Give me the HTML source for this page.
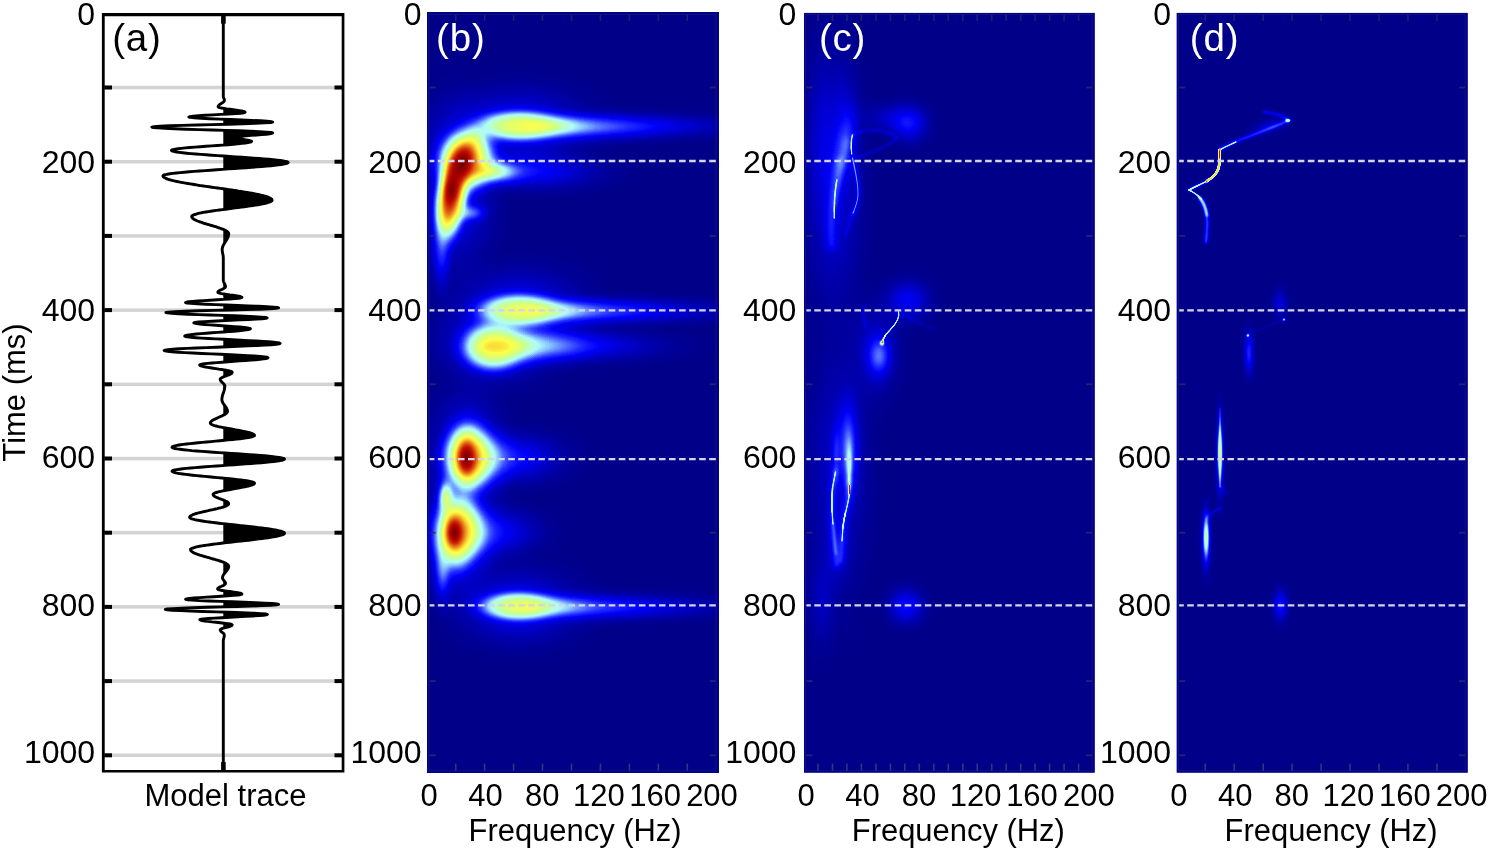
<!DOCTYPE html>
<html lang="en"><head><meta charset="utf-8"><title>Time-frequency spectra of model trace</title>
<style>html,body{margin:0;padding:0;background:#fff;}body{width:1489px;height:851px;overflow:hidden;font-family:"Liberation Sans",Arial,sans-serif;}svg{display:block}</style>
</head><body>
<svg width="1489" height="851" viewBox="0 0 1489 851" font-family="Liberation Sans, Arial, sans-serif">
<defs>
<filter id="jet" x="0" y="0" width="100%" height="100%" filterUnits="objectBoundingBox" color-interpolation-filters="sRGB">
<feComponentTransfer>
<feFuncR type="table" tableValues="0.000 0.000 0.000 0.137 0.333 0.529 0.686 0.725 0.784 0.894 0.988 0.980 0.922 0.843 0.765 0.627 0.412"/>
<feFuncG type="table" tableValues="0.000 0.000 0.000 0.176 0.451 0.765 0.980 1.000 1.000 1.000 1.000 0.824 0.549 0.275 0.059 0.000 0.000"/>
<feFuncB type="table" tableValues="0.541 0.776 0.980 1.000 1.000 1.000 0.980 0.804 0.588 0.412 0.294 0.196 0.118 0.059 0.000 0.000 0.000"/>
<feFuncA type="linear" slope="0" intercept="1"/>
</feComponentTransfer>
</filter>
<radialGradient id="gg" cx="0.5" cy="0.5" r="0.5"><stop offset="0.0000" stop-color="#fff" stop-opacity="1.0000"/><stop offset="0.0625" stop-color="#fff" stop-opacity="0.9826"/><stop offset="0.1250" stop-color="#fff" stop-opacity="0.9321"/><stop offset="0.1875" stop-color="#fff" stop-opacity="0.8537"/><stop offset="0.2500" stop-color="#fff" stop-opacity="0.7548"/><stop offset="0.3125" stop-color="#fff" stop-opacity="0.6444"/><stop offset="0.3750" stop-color="#fff" stop-opacity="0.5311"/><stop offset="0.4375" stop-color="#fff" stop-opacity="0.4226"/><stop offset="0.5000" stop-color="#fff" stop-opacity="0.3247"/><stop offset="0.5625" stop-color="#fff" stop-opacity="0.2408"/><stop offset="0.6250" stop-color="#fff" stop-opacity="0.1724"/><stop offset="0.6875" stop-color="#fff" stop-opacity="0.1192"/><stop offset="0.7500" stop-color="#fff" stop-opacity="0.0796"/><stop offset="0.8125" stop-color="#fff" stop-opacity="0.0513"/><stop offset="0.8750" stop-color="#fff" stop-opacity="0.0319"/><stop offset="0.9375" stop-color="#fff" stop-opacity="0.0192"/><stop offset="1.0000" stop-color="#fff" stop-opacity="0.0000"/></radialGradient>
<filter id="bl1" filterUnits="userSpaceOnUse" x="0" y="0" width="1489" height="851"><feGaussianBlur stdDeviation="1"/></filter>
<filter id="bl2" filterUnits="userSpaceOnUse" x="0" y="0" width="1489" height="851"><feGaussianBlur stdDeviation="2"/></filter>
<filter id="bl3" filterUnits="userSpaceOnUse" x="0" y="0" width="1489" height="851"><feGaussianBlur stdDeviation="3"/></filter>
<filter id="bl4" filterUnits="userSpaceOnUse" x="0" y="0" width="1489" height="851"><feGaussianBlur stdDeviation="4"/></filter>
<radialGradient id="gf" cx="0.5" cy="0.5" r="0.5"><stop offset="0.000" stop-color="#fff" stop-opacity="1.0000"/><stop offset="0.050" stop-color="#fff" stop-opacity="0.9997"/><stop offset="0.100" stop-color="#fff" stop-opacity="0.9970"/><stop offset="0.150" stop-color="#fff" stop-opacity="0.9892"/><stop offset="0.200" stop-color="#fff" stop-opacity="0.9731"/><stop offset="0.250" stop-color="#fff" stop-opacity="0.9459"/><stop offset="0.300" stop-color="#fff" stop-opacity="0.9052"/><stop offset="0.350" stop-color="#fff" stop-opacity="0.8495"/><stop offset="0.400" stop-color="#fff" stop-opacity="0.7787"/><stop offset="0.450" stop-color="#fff" stop-opacity="0.6945"/><stop offset="0.500" stop-color="#fff" stop-opacity="0.6000"/><stop offset="0.550" stop-color="#fff" stop-opacity="0.5001"/><stop offset="0.600" stop-color="#fff" stop-opacity="0.4003"/><stop offset="0.650" stop-color="#fff" stop-opacity="0.3064"/><stop offset="0.700" stop-color="#fff" stop-opacity="0.2233"/><stop offset="0.750" stop-color="#fff" stop-opacity="0.1542"/><stop offset="0.800" stop-color="#fff" stop-opacity="0.1004"/><stop offset="0.850" stop-color="#fff" stop-opacity="0.0614"/><stop offset="0.900" stop-color="#fff" stop-opacity="0.0351"/><stop offset="0.950" stop-color="#fff" stop-opacity="0.0186"/><stop offset="1.000" stop-color="#fff" stop-opacity="0.0000"/></radialGradient>
</defs>

<rect width="1489" height="851" fill="#fff"/>
<rect x="105.0" y="85.8" width="236.6" height="3.5" fill="#d3d3d3"/>
<rect x="105.0" y="160.0" width="236.6" height="3.5" fill="#d3d3d3"/>
<rect x="105.0" y="234.2" width="236.6" height="3.5" fill="#d3d3d3"/>
<rect x="105.0" y="308.4" width="236.6" height="3.5" fill="#d3d3d3"/>
<rect x="105.0" y="382.6" width="236.6" height="3.5" fill="#d3d3d3"/>
<rect x="105.0" y="456.8" width="236.6" height="3.5" fill="#d3d3d3"/>
<rect x="105.0" y="530.9" width="236.6" height="3.5" fill="#d3d3d3"/>
<rect x="105.0" y="605.1" width="236.6" height="3.5" fill="#d3d3d3"/>
<rect x="105.0" y="679.3" width="236.6" height="3.5" fill="#d3d3d3"/>
<rect x="105.0" y="753.5" width="236.6" height="3.5" fill="#d3d3d3"/>
<path d="M223.3 96.9L223.4 96.9L223.5 97.3L223.7 97.7L223.8 98.2L224.0 98.6L224.2 99.0L224.3 99.4L224.4 99.9L224.4 100.3L224.3 100.7L224.2 101.1L223.9 101.5L223.5 101.9L223.3 102.3ZM223.3 108.4L223.9 108.4L226.8 108.9L230.0 109.3L233.2 109.7L236.4 110.1L239.3 110.6L241.7 111.0L243.6 111.4L244.7 111.9L245.1 112.3L244.0 112.7L240.6 113.2L235.4 113.6L228.6 114.0L223.3 114.4ZM223.3 119.5L230.8 119.5L241.6 120.0L251.7 120.4L260.4 120.8L267.1 121.2L271.3 121.7L272.7 122.1L270.6 122.5L264.6 122.9L255.0 123.3L242.5 123.8L227.9 124.2L223.3 124.6ZM223.3 130.4L225.7 130.4L238.5 130.8L249.9 131.2L259.5 131.7L266.7 132.1L271.2 132.5L272.7 132.9L271.9 133.3L269.7 133.7L266.2 134.2L261.7 134.6L256.6 135.0L251.2 135.4L246.1 135.8L241.6 136.2L238.1 136.7L235.9 137.1L235.1 137.5L235.6 137.9L237.0 138.4L239.2 138.8L241.9 139.2L244.8 139.7L247.5 140.1L249.7 140.5L251.1 141.0L251.6 141.4L251.2 141.8L250.0 142.2L248.0 142.6L245.2 143.0L241.8 143.4L237.8 143.9L233.2 144.3L228.2 144.7L223.3 145.1ZM223.3 156.0L223.8 156.0L229.8 156.4L235.9 156.9L242.0 157.3L247.9 157.7L253.6 158.1L259.0 158.5L264.1 158.9L268.9 159.3L273.2 159.7L277.1 160.1L280.4 160.5L283.2 160.9L285.3 161.3L286.9 161.7L287.9 162.1L288.2 162.5L287.9 162.9L287.1 163.3L285.7 163.7L283.7 164.1L281.2 164.5L278.3 164.9L274.8 165.3L270.9 165.7L266.6 166.1L261.9 166.5L256.9 166.9L251.6 167.3L246.0 167.7L240.3 168.1L234.5 168.5L228.5 168.9L223.3 169.4ZM223.3 189.2L226.0 189.2L228.9 189.6L231.6 190.0L234.4 190.4L237.1 190.8L239.7 191.3L242.3 191.7L244.8 192.1L247.2 192.5L249.6 192.9L251.9 193.3L254.0 193.7L256.1 194.1L258.1 194.5L259.9 194.9L261.7 195.3L263.3 195.7L264.8 196.1L266.1 196.5L267.4 196.9L268.5 197.4L269.4 197.8L270.2 198.2L270.9 198.6L271.4 199.0L271.8 199.4L272.0 199.8L272.1 200.2L272.0 200.6L271.6 201.0L271.0 201.4L270.1 201.8L269.0 202.2L267.7 202.6L266.2 203.1L264.4 203.5L262.5 203.9L260.3 204.3L258.0 204.7L255.5 205.1L252.9 205.5L250.2 205.9L247.3 206.3L244.3 206.7L241.3 207.1L238.2 207.5L235.1 207.9L231.9 208.3L228.7 208.8L225.6 209.2L223.3 209.6ZM223.3 229.6L223.8 229.6L224.7 230.0L225.5 230.4L226.2 230.8L226.9 231.2L227.4 231.7L227.9 232.1L228.2 232.5L228.5 232.9L228.6 233.3L228.7 233.7L228.7 234.1L228.7 234.5L228.6 234.9L228.5 235.3L228.4 235.7L228.3 236.1L228.2 236.6L228.0 237.0L227.9 237.4L227.7 237.8L227.5 238.2L227.3 238.6L227.1 239.0L226.8 239.4L226.6 239.8L226.4 240.2L226.1 240.6L225.8 241.0L225.6 241.4L225.3 241.9L225.1 242.3L224.8 242.7L224.5 243.1L224.3 243.5L224.1 243.9L223.8 244.3L223.6 244.7L223.4 245.1L223.3 245.5ZM223.3 280.8L223.4 280.8L223.5 281.3L223.6 281.7L223.8 282.1L224.0 282.5L224.2 282.9L224.4 283.4L224.6 283.8L224.8 284.2L225.0 284.6L225.2 285.0L225.3 285.4L225.4 285.9L225.5 286.3L225.5 286.7L225.4 287.1L225.1 287.5L224.7 287.9L224.1 288.3L223.3 288.7ZM223.3 294.0L223.8 294.0L226.7 294.4L229.8 294.9L233.0 295.3L235.9 295.7L238.4 296.1L240.3 296.5L241.5 297.0L241.9 297.4L241.1 297.8L238.7 298.2L234.8 298.6L229.7 299.0L223.7 299.4L223.3 299.8ZM223.3 305.0L226.5 305.0L237.7 305.5L248.6 305.9L258.5 306.3L266.9 306.7L273.3 307.1L277.2 307.5L278.6 307.9L276.3 308.3L269.7 308.7L259.2 309.2L245.7 309.6L230.3 310.0L223.3 310.4ZM223.3 315.8L234.4 315.8L245.2 316.2L254.4 316.7L261.3 317.1L265.6 317.5L267.1 317.9L265.9 318.3L262.2 318.7L256.4 319.1L248.8 319.5L239.9 319.9L230.5 320.4L223.3 320.8ZM223.3 326.2L228.4 326.2L234.4 326.6L239.7 327.0L244.2 327.4L247.6 327.9L249.7 328.3L250.4 328.7L249.9 329.1L248.4 329.5L246.0 329.9L242.7 330.3L238.7 330.8L234.0 331.2L228.8 331.6L223.3 332.0ZM223.3 339.3L224.1 339.3L232.4 339.8L240.7 340.2L248.7 340.6L256.2 341.0L263.1 341.4L268.9 341.8L273.7 342.2L277.2 342.6L279.4 343.0L280.1 343.4L279.1 343.8L276.2 344.2L271.4 344.7L265.0 345.1L257.1 345.5L248.0 345.9L238.0 346.3L227.5 346.7L223.3 347.2ZM223.3 354.7L230.3 354.7L239.2 355.2L247.4 355.6L254.4 356.0L260.2 356.4L264.5 356.9L267.1 357.3L268.0 357.7L267.5 358.1L265.9 358.5L263.4 358.9L260.0 359.3L255.8 359.7L250.9 360.1L245.5 360.5L239.8 360.9L233.8 361.4L227.9 361.8L223.3 362.2ZM223.3 369.9L224.1 369.9L226.4 370.3L228.4 370.7L230.0 371.1L231.2 371.5L232.0 371.9L232.2 372.3L232.1 372.7L231.8 373.1L231.3 373.5L230.6 373.9L229.8 374.4L228.9 374.8L227.8 375.2L226.8 375.6L225.6 376.0L224.6 376.4L223.5 376.8L223.3 377.2ZM223.3 383.7L223.5 383.7L223.9 384.1L224.2 384.5L224.5 384.9L224.6 385.3L224.8 385.7L224.8 386.1L224.8 386.5L224.8 386.9L224.7 387.3L224.7 387.7L224.6 388.1L224.6 388.6L224.5 389.0L224.4 389.4L224.3 389.8L224.2 390.2L224.1 390.6L224.0 391.0L223.8 391.4L223.7 391.8L223.6 392.2L223.4 392.6L223.3 393.1ZM223.3 403.7L223.4 403.7L223.7 404.1L224.0 404.5L224.2 404.9L224.5 405.3L224.9 405.7L225.2 406.1L225.4 406.5L225.7 406.9L226.0 407.3L226.3 407.7L226.5 408.1L226.7 408.6L226.9 409.0L227.1 409.4L227.2 409.8L227.4 410.2L227.4 410.6L227.5 411.0L227.5 411.4L227.4 411.8L227.3 412.2L227.0 412.6L226.7 413.0L226.3 413.4L225.7 413.8L225.1 414.2L224.5 414.6L223.7 415.0L223.3 415.4ZM223.3 427.6L223.4 427.6L225.6 428.0L227.8 428.4L230.1 428.8L232.4 429.2L234.7 429.7L237.0 430.1L239.2 430.5L241.4 430.9L243.4 431.3L245.4 431.7L247.2 432.1L248.8 432.5L250.3 432.9L251.5 433.3L252.6 433.8L253.4 434.2L254.0 434.6L254.4 435.0L254.5 435.4L254.3 435.8L253.5 436.2L252.3 436.6L250.7 437.0L248.6 437.5L246.1 437.9L243.2 438.3L240.0 438.7L236.4 439.1L232.6 439.5L228.5 439.9L224.3 440.3L223.3 440.7ZM223.3 453.0L225.2 453.0L231.3 453.4L237.4 453.8L243.3 454.2L249.1 454.6L254.6 455.0L259.8 455.4L264.7 455.8L269.1 456.3L273.0 456.7L276.4 457.1L279.3 457.5L281.6 457.9L283.2 458.3L284.2 458.7L284.5 459.1L284.2 459.5L283.3 459.9L281.7 460.3L279.6 460.7L277.0 461.1L273.8 461.5L270.1 461.9L265.9 462.3L261.3 462.7L256.4 463.1L251.1 463.5L245.6 463.9L239.9 464.3L234.1 464.7L228.2 465.1L223.3 465.6ZM223.3 478.4L226.0 478.4L230.0 478.8L233.9 479.2L237.5 479.6L240.9 480.0L243.9 480.4L246.6 480.8L249.0 481.2L250.9 481.6L252.5 482.0L253.6 482.4L254.3 482.8L254.5 483.2L254.4 483.6L254.0 484.0L253.3 484.4L252.5 484.8L251.3 485.2L250.0 485.6L248.4 486.0L246.7 486.4L244.8 486.8L242.8 487.2L240.6 487.6L238.4 488.0L236.1 488.4L233.8 488.9L231.5 489.3L229.2 489.7L227.0 490.1L224.8 490.5L223.3 490.9ZM223.3 500.4L224.1 500.4L225.1 500.8L226.0 501.2L226.8 501.6L227.5 502.0L228.0 502.4L228.4 502.9L228.6 503.3L228.7 503.7L228.6 504.1L228.3 504.5L227.9 504.9L227.3 505.3L226.5 505.7L225.6 506.2L224.5 506.6L223.3 507.0ZM223.3 524.0L226.0 524.0L229.6 524.4L233.3 524.8L237.1 525.2L240.8 525.6L244.5 526.0L248.1 526.4L251.7 526.8L255.2 527.2L258.6 527.6L261.8 528.0L264.9 528.4L267.9 528.8L270.6 529.2L273.1 529.6L275.4 530.0L277.5 530.4L279.3 530.8L280.9 531.2L282.2 531.6L283.2 532.0L283.9 532.4L284.4 532.8L284.5 533.2L284.4 533.6L283.9 534.0L283.2 534.4L282.2 534.8L280.9 535.2L279.4 535.7L277.6 536.1L275.5 536.5L273.2 536.9L270.7 537.3L268.0 537.7L265.1 538.1L262.1 538.5L258.8 538.9L255.5 539.4L252.0 539.8L248.5 540.2L244.9 540.6L241.2 541.0L237.5 541.4L233.8 541.8L230.1 542.2L226.5 542.6L223.3 543.0ZM223.3 562.2L223.4 562.2L224.3 562.6L225.2 563.0L226.0 563.4L226.7 563.9L227.3 564.3L227.8 564.7L228.2 565.1L228.5 565.5L228.6 565.9L228.7 566.3L228.7 566.7L228.6 567.1L228.5 567.5L228.4 567.9L228.2 568.4L228.0 568.8L227.8 569.2L227.5 569.6L227.2 570.0L226.9 570.4L226.6 570.8L226.3 571.2L225.9 571.6L225.6 572.0L225.3 572.5L224.9 572.9L224.6 573.3L224.3 573.7L224.0 574.1L223.7 574.5L223.4 574.9L223.3 575.3ZM223.3 580.2L223.7 580.2L224.0 580.6L224.3 581.1L224.7 581.5L224.9 581.9L225.2 582.3L225.4 582.7L225.5 583.1L225.5 583.5L225.4 583.9L225.0 584.3L224.5 584.8L223.8 585.2L223.3 585.6ZM223.3 590.7L223.7 590.7L226.6 591.1L229.8 591.5L232.9 592.0L235.8 592.4L238.3 592.8L240.3 593.2L241.5 593.7L241.9 594.1L240.9 594.5L238.1 595.0L233.7 595.4L227.8 595.8L223.3 596.3ZM223.3 601.8L232.1 601.8L244.1 602.3L255.4 602.7L265.0 603.1L272.4 603.5L277.0 604.0L278.6 604.4L276.7 604.8L271.0 605.2L262.0 605.6L250.3 606.1L236.6 606.5L223.3 606.9ZM223.3 612.3L229.6 612.3L241.9 612.7L252.4 613.1L260.6 613.6L265.7 614.0L267.4 614.4L266.4 614.8L263.5 615.2L258.9 615.6L252.8 616.0L245.6 616.4L237.7 616.8L229.6 617.3L223.3 617.7ZM223.3 623.2L224.1 623.2L227.5 623.6L230.0 624.0L231.6 624.5L232.2 624.9L232.0 625.3L231.4 625.7L230.4 626.1L229.2 626.6L227.8 627.0L226.2 627.4L224.6 627.8L223.3 628.2ZM223.3 633.6L223.7 633.6L224.0 634.1L224.2 634.5L224.3 634.9L224.3 635.3L224.3 635.7L224.2 636.1L224.1 636.5L224.1 636.9L224.0 637.3L223.9 637.7L223.7 638.2L223.6 638.6L223.6 639.0L223.5 639.4L223.4 639.8L223.3 640.2Z" fill="#000"/>
<path d="M223.3 16.0L223.3 96.0L223.3 96.4L223.4 96.9L223.5 97.3L223.7 97.7L223.8 98.2L224.0 98.6L224.2 99.0L224.3 99.4L224.4 99.9L224.4 100.3L224.3 100.7L224.2 101.1L223.9 101.5L223.5 101.9L223.0 102.3L222.5 102.7L221.9 103.1L221.2 103.5L220.6 103.9L220.0 104.3L219.5 104.7L219.0 105.1L218.6 105.5L218.3 105.9L218.2 106.3L218.1 106.7L218.5 107.1L219.6 107.6L221.5 108.0L223.9 108.4L226.8 108.9L230.0 109.3L233.2 109.7L236.4 110.1L239.3 110.6L241.7 111.0L243.6 111.4L244.7 111.9L245.1 112.3L244.0 112.7L240.6 113.2L235.4 113.6L228.6 114.0L221.0 114.4L212.9 114.9L205.3 115.3L198.5 115.7L193.3 116.1L189.9 116.6L188.8 117.0L190.2 117.4L194.4 117.8L201.1 118.3L209.8 118.7L219.9 119.1L230.8 119.5L241.6 120.0L251.7 120.4L260.4 120.8L267.1 121.2L271.3 121.7L272.7 122.1L270.6 122.5L264.6 122.9L255.0 123.3L242.5 123.8L227.9 124.2L212.2 124.6L196.6 125.0L182.0 125.4L169.5 125.8L159.9 126.3L153.9 126.7L151.8 127.1L153.3 127.5L157.8 127.9L165.0 128.3L174.6 128.8L186.0 129.2L198.8 129.6L212.2 130.0L225.7 130.4L238.5 130.8L249.9 131.2L259.5 131.7L266.7 132.1L271.2 132.5L272.7 132.9L271.9 133.3L269.7 133.7L266.2 134.2L261.7 134.6L256.6 135.0L251.2 135.4L246.1 135.8L241.6 136.2L238.1 136.7L235.9 137.1L235.1 137.5L235.6 137.9L237.0 138.4L239.2 138.8L241.9 139.2L244.8 139.7L247.5 140.1L249.7 140.5L251.1 141.0L251.6 141.4L251.2 141.8L250.0 142.2L248.0 142.6L245.2 143.0L241.8 143.4L237.8 143.9L233.2 144.3L228.2 144.7L222.8 145.1L217.2 145.5L211.6 145.9L205.9 146.3L200.3 146.7L194.9 147.1L189.9 147.5L185.3 147.9L181.3 148.4L177.9 148.8L175.1 149.2L173.1 149.6L171.9 150.0L171.5 150.4L171.8 150.8L172.8 151.2L174.4 151.6L176.5 152.0L179.3 152.4L182.6 152.8L186.5 153.2L190.8 153.6L195.6 154.0L200.7 154.4L206.1 154.8L211.8 155.2L217.7 155.6L223.8 156.0L229.8 156.4L235.9 156.9L242.0 157.3L247.9 157.7L253.6 158.1L259.0 158.5L264.1 158.9L268.9 159.3L273.2 159.7L277.1 160.1L280.4 160.5L283.2 160.9L285.3 161.3L286.9 161.7L287.9 162.1L288.2 162.5L287.9 162.9L287.1 163.3L285.7 163.7L283.7 164.1L281.2 164.5L278.3 164.9L274.8 165.3L270.9 165.7L266.6 166.1L261.9 166.5L256.9 166.9L251.6 167.3L246.0 167.7L240.3 168.1L234.5 168.5L228.5 168.9L222.6 169.4L216.6 169.8L210.8 170.2L205.1 170.6L199.5 171.0L194.2 171.4L189.2 171.8L184.5 172.2L180.2 172.6L176.3 173.0L172.8 173.4L169.9 173.8L167.4 174.2L165.4 174.6L164.0 175.0L163.2 175.4L162.9 175.8L163.0 176.2L163.2 176.6L163.6 177.0L164.1 177.4L164.8 177.8L165.6 178.2L166.5 178.6L167.6 179.1L168.9 179.5L170.2 179.9L171.7 180.3L173.3 180.7L175.1 181.1L176.9 181.5L178.9 181.9L181.0 182.3L183.1 182.7L185.4 183.1L187.8 183.5L190.2 183.9L192.7 184.3L195.3 184.7L197.9 185.2L200.6 185.6L203.4 186.0L206.1 186.4L209.0 186.8L211.8 187.2L214.6 187.6L217.5 188.0L220.4 188.4L223.2 188.8L226.0 189.2L228.9 189.6L231.6 190.0L234.4 190.4L237.1 190.8L239.7 191.3L242.3 191.7L244.8 192.1L247.2 192.5L249.6 192.9L251.9 193.3L254.0 193.7L256.1 194.1L258.1 194.5L259.9 194.9L261.7 195.3L263.3 195.7L264.8 196.1L266.1 196.5L267.4 196.9L268.5 197.4L269.4 197.8L270.2 198.2L270.9 198.6L271.4 199.0L271.8 199.4L272.0 199.8L272.1 200.2L272.0 200.6L271.6 201.0L271.0 201.4L270.1 201.8L269.0 202.2L267.7 202.6L266.2 203.1L264.4 203.5L262.5 203.9L260.3 204.3L258.0 204.7L255.5 205.1L252.9 205.5L250.2 205.9L247.3 206.3L244.3 206.7L241.3 207.1L238.2 207.5L235.1 207.9L231.9 208.3L228.7 208.8L225.6 209.2L222.5 209.6L219.5 210.0L216.5 210.4L213.6 210.8L210.9 211.2L208.3 211.6L205.8 212.0L203.5 212.4L201.3 212.8L199.4 213.2L197.6 213.6L196.1 214.1L194.8 214.5L193.7 214.9L192.8 215.3L192.2 215.7L191.8 216.1L191.7 216.5L191.8 216.9L191.9 217.3L192.2 217.7L192.5 218.1L193.0 218.5L193.5 219.0L194.2 219.4L194.9 219.8L195.7 220.2L196.6 220.6L197.6 221.0L198.7 221.4L199.8 221.8L200.9 222.2L202.2 222.6L203.4 223.1L204.7 223.5L206.1 223.9L207.4 224.3L208.8 224.7L210.2 225.1L211.6 225.5L213.0 225.9L214.3 226.3L215.7 226.7L217.0 227.1L218.2 227.6L219.5 228.0L220.6 228.4L221.7 228.8L222.8 229.2L223.8 229.6L224.7 230.0L225.5 230.4L226.2 230.8L226.9 231.2L227.4 231.7L227.9 232.1L228.2 232.5L228.5 232.9L228.6 233.3L228.7 233.7L228.7 234.1L228.7 234.5L228.6 234.9L228.5 235.3L228.4 235.7L228.3 236.1L228.2 236.6L228.0 237.0L227.9 237.4L227.7 237.8L227.5 238.2L227.3 238.6L227.1 239.0L226.8 239.4L226.6 239.8L226.4 240.2L226.1 240.6L225.8 241.0L225.6 241.4L225.3 241.9L225.1 242.3L224.8 242.7L224.5 243.1L224.3 243.5L224.1 243.9L223.8 244.3L223.6 244.7L223.4 245.1L223.2 245.5L223.0 245.9L222.9 246.3L222.7 246.7L222.6 247.2L222.5 247.6L222.4 248.0L222.3 248.4L222.2 248.8L222.2 249.2L222.2 249.6L222.2 250.0L222.2 250.4L222.3 250.8L222.3 251.2L222.3 251.6L222.4 252.0L222.5 252.4L222.5 252.8L222.6 253.2L222.7 253.6L222.8 254.0L222.9 254.4L223.0 254.8L223.0 255.2L223.1 255.6L223.2 256.0L223.2 256.4L223.2 256.8L223.3 257.2L223.3 257.6L223.3 258.0L223.3 280.0L223.3 280.4L223.4 280.8L223.5 281.3L223.6 281.7L223.8 282.1L224.0 282.5L224.2 282.9L224.4 283.4L224.6 283.8L224.8 284.2L225.0 284.6L225.2 285.0L225.3 285.4L225.4 285.9L225.5 286.3L225.5 286.7L225.4 287.1L225.1 287.5L224.7 287.9L224.1 288.3L223.3 288.7L222.5 289.1L221.7 289.5L220.8 289.9L220.0 290.3L219.2 290.7L218.6 291.1L218.2 291.5L217.9 291.9L217.8 292.3L218.2 292.7L219.4 293.1L221.3 293.6L223.8 294.0L226.7 294.4L229.8 294.9L233.0 295.3L235.9 295.7L238.4 296.1L240.3 296.5L241.5 297.0L241.9 297.4L241.1 297.8L238.7 298.2L234.8 298.6L229.7 299.0L223.7 299.4L217.1 299.8L210.4 300.2L203.8 300.6L197.8 301.0L192.7 301.4L188.8 301.8L186.4 302.2L185.6 302.6L187.0 303.0L190.9 303.4L197.3 303.8L205.7 304.2L215.6 304.6L226.5 305.0L237.7 305.5L248.6 305.9L258.5 306.3L266.9 306.7L273.3 307.1L277.2 307.5L278.6 307.9L276.3 308.3L269.7 308.7L259.2 309.2L245.7 309.6L230.3 310.0L214.2 310.4L198.8 310.8L185.3 311.2L174.8 311.7L168.2 312.1L165.9 312.5L167.4 312.9L171.7 313.3L178.6 313.7L187.8 314.2L198.6 314.6L210.4 315.0L222.6 315.4L234.4 315.8L245.2 316.2L254.4 316.7L261.3 317.1L265.6 317.5L267.1 317.9L265.9 318.3L262.2 318.7L256.4 319.1L248.8 319.5L239.9 319.9L230.5 320.4L221.0 320.8L212.1 321.2L204.5 321.6L198.7 322.0L195.0 322.4L193.8 322.8L194.5 323.2L196.6 323.6L200.0 324.1L204.5 324.5L209.8 324.9L215.8 325.3L222.1 325.8L228.4 326.2L234.4 326.6L239.7 327.0L244.2 327.4L247.6 327.9L249.7 328.3L250.4 328.7L249.9 329.1L248.4 329.5L246.0 329.9L242.7 330.3L238.7 330.8L234.0 331.2L228.8 331.6L223.3 332.0L217.6 332.4L211.8 332.8L206.3 333.2L201.1 333.6L196.4 334.0L192.4 334.5L189.1 334.9L186.7 335.3L185.2 335.7L184.7 336.1L185.4 336.5L187.6 336.9L191.1 337.3L195.9 337.7L201.7 338.1L208.5 338.5L216.1 338.9L224.1 339.3L232.4 339.8L240.7 340.2L248.7 340.6L256.2 341.0L263.1 341.4L268.9 341.8L273.7 342.2L277.2 342.6L279.4 343.0L280.1 343.4L279.1 343.8L276.2 344.2L271.4 344.7L265.0 345.1L257.1 345.5L248.0 345.9L238.0 346.3L227.5 346.7L216.7 347.2L206.2 347.6L196.2 348.0L187.1 348.4L179.2 348.8L172.8 349.2L168.0 349.7L165.1 350.1L164.1 350.5L165.0 350.9L167.6 351.3L171.9 351.8L177.7 352.2L184.7 352.6L192.9 353.0L201.8 353.5L211.3 353.9L220.8 354.3L230.3 354.7L239.2 355.2L247.4 355.6L254.4 356.0L260.2 356.4L264.5 356.9L267.1 357.3L268.0 357.7L267.5 358.1L265.9 358.5L263.4 358.9L260.0 359.3L255.8 359.7L250.9 360.1L245.5 360.5L239.8 360.9L233.8 361.4L227.9 361.8L222.2 362.2L216.8 362.6L211.9 363.0L207.7 363.4L204.3 363.8L201.8 364.2L200.2 364.6L199.7 365.0L199.9 365.4L200.7 365.8L201.9 366.2L203.5 366.6L205.5 367.0L207.8 367.4L210.4 367.8L213.1 368.2L215.9 368.6L218.8 369.1L221.5 369.5L224.1 369.9L226.4 370.3L228.4 370.7L230.0 371.1L231.2 371.5L232.0 371.9L232.2 372.3L232.1 372.7L231.8 373.1L231.3 373.5L230.6 373.9L229.8 374.4L228.9 374.8L227.8 375.2L226.8 375.6L225.6 376.0L224.6 376.4L223.5 376.8L222.6 377.2L221.8 377.7L221.1 378.1L220.6 378.5L220.3 378.9L220.2 379.3L220.2 379.7L220.4 380.1L220.5 380.5L220.8 380.9L221.1 381.3L221.5 381.7L221.9 382.1L222.3 382.5L222.7 382.9L223.1 383.3L223.5 383.7L223.9 384.1L224.2 384.5L224.5 384.9L224.6 385.3L224.8 385.7L224.8 386.1L224.8 386.5L224.8 386.9L224.7 387.3L224.7 387.7L224.6 388.1L224.6 388.6L224.5 389.0L224.4 389.4L224.3 389.8L224.2 390.2L224.1 390.6L224.0 391.0L223.8 391.4L223.7 391.8L223.6 392.2L223.4 392.6L223.3 393.1L223.1 393.5L223.0 393.9L222.9 394.3L222.7 394.7L222.6 395.1L222.5 395.5L222.4 395.9L222.3 396.3L222.2 396.7L222.1 397.1L222.1 397.6L222.0 398.0L222.0 398.4L221.9 398.8L221.9 399.2L221.9 399.6L221.9 400.0L222.0 400.4L222.0 400.8L222.2 401.2L222.3 401.6L222.5 402.0L222.7 402.4L222.9 402.9L223.1 403.3L223.4 403.7L223.7 404.1L224.0 404.5L224.2 404.9L224.5 405.3L224.9 405.7L225.2 406.1L225.4 406.5L225.7 406.9L226.0 407.3L226.3 407.7L226.5 408.1L226.7 408.6L226.9 409.0L227.1 409.4L227.2 409.8L227.4 410.2L227.4 410.6L227.5 411.0L227.5 411.4L227.4 411.8L227.3 412.2L227.0 412.6L226.7 413.0L226.3 413.4L225.7 413.8L225.1 414.2L224.5 414.6L223.7 415.0L222.9 415.4L222.1 415.8L221.2 416.2L220.3 416.6L219.4 417.0L218.4 417.5L217.5 417.9L216.6 418.3L215.7 418.7L214.9 419.1L214.1 419.5L213.3 419.9L212.7 420.3L212.1 420.7L211.5 421.1L211.1 421.5L210.8 421.9L210.5 422.3L210.4 422.7L210.3 423.1L210.4 423.5L210.8 423.9L211.4 424.3L212.2 424.7L213.3 425.2L214.5 425.6L216.0 426.0L217.6 426.4L219.4 426.8L221.3 427.2L223.4 427.6L225.6 428.0L227.8 428.4L230.1 428.8L232.4 429.2L234.7 429.7L237.0 430.1L239.2 430.5L241.4 430.9L243.4 431.3L245.4 431.7L247.2 432.1L248.8 432.5L250.3 432.9L251.5 433.3L252.6 433.8L253.4 434.2L254.0 434.6L254.4 435.0L254.5 435.4L254.3 435.8L253.5 436.2L252.3 436.6L250.7 437.0L248.6 437.5L246.1 437.9L243.2 438.3L240.0 438.7L236.4 439.1L232.6 439.5L228.5 439.9L224.3 440.3L219.9 440.7L215.5 441.1L211.0 441.6L206.6 442.0L202.2 442.4L198.0 442.8L193.9 443.2L190.1 443.6L186.5 444.0L183.3 444.4L180.4 444.8L177.9 445.2L175.8 445.7L174.2 446.1L173.0 446.5L172.2 446.9L172.0 447.3L172.3 447.7L173.3 448.1L174.9 448.5L177.2 448.9L180.1 449.3L183.5 449.7L187.4 450.1L191.8 450.6L196.7 451.0L201.9 451.4L207.4 451.8L213.2 452.2L219.1 452.6L225.2 453.0L231.3 453.4L237.4 453.8L243.3 454.2L249.1 454.6L254.6 455.0L259.8 455.4L264.7 455.8L269.1 456.3L273.0 456.7L276.4 457.1L279.3 457.5L281.6 457.9L283.2 458.3L284.2 458.7L284.5 459.1L284.2 459.5L283.3 459.9L281.7 460.3L279.6 460.7L277.0 461.1L273.8 461.5L270.1 461.9L265.9 462.3L261.3 462.7L256.4 463.1L251.1 463.5L245.6 463.9L239.9 464.3L234.1 464.7L228.2 465.1L222.4 465.6L216.6 466.0L210.9 466.4L205.4 466.8L200.1 467.2L195.2 467.6L190.6 468.0L186.4 468.4L182.7 468.8L179.5 469.2L176.9 469.6L174.8 470.0L173.2 470.4L172.3 470.8L172.0 471.2L172.2 471.6L172.9 472.0L174.0 472.4L175.6 472.8L177.5 473.2L179.9 473.6L182.6 474.0L185.6 474.4L189.0 474.8L192.6 475.2L196.5 475.6L200.5 476.0L204.7 476.4L208.9 476.8L213.2 477.2L217.6 477.6L221.8 478.0L226.0 478.4L230.0 478.8L233.9 479.2L237.5 479.6L240.9 480.0L243.9 480.4L246.6 480.8L249.0 481.2L250.9 481.6L252.5 482.0L253.6 482.4L254.3 482.8L254.5 483.2L254.4 483.6L254.0 484.0L253.3 484.4L252.5 484.8L251.3 485.2L250.0 485.6L248.4 486.0L246.7 486.4L244.8 486.8L242.8 487.2L240.6 487.6L238.4 488.0L236.1 488.4L233.8 488.9L231.5 489.3L229.2 489.7L227.0 490.1L224.8 490.5L222.8 490.9L220.9 491.3L219.2 491.7L217.6 492.1L216.3 492.5L215.1 492.9L214.3 493.3L213.6 493.7L213.2 494.1L213.1 494.5L213.2 494.9L213.4 495.3L213.8 495.8L214.3 496.2L215.0 496.6L215.8 497.0L216.7 497.4L217.7 497.8L218.7 498.3L219.8 498.7L220.9 499.1L222.0 499.5L223.1 499.9L224.1 500.4L225.1 500.8L226.0 501.2L226.8 501.6L227.5 502.0L228.0 502.4L228.4 502.9L228.6 503.3L228.7 503.7L228.6 504.1L228.3 504.5L227.9 504.9L227.3 505.3L226.5 505.7L225.6 506.2L224.5 506.6L223.3 507.0L222.0 507.4L220.5 507.8L218.9 508.2L217.3 508.6L215.5 509.0L213.8 509.4L211.9 509.8L210.1 510.2L208.2 510.7L206.4 511.1L204.5 511.5L202.8 511.9L201.0 512.3L199.4 512.7L197.8 513.1L196.3 513.5L195.0 513.9L193.8 514.3L192.7 514.7L191.8 515.2L191.0 515.6L190.4 516.0L190.0 516.4L189.7 516.8L189.6 517.2L189.7 517.6L190.2 518.0L190.9 518.4L191.9 518.8L193.2 519.2L194.8 519.6L196.6 520.0L198.7 520.4L201.0 520.8L203.5 521.2L206.2 521.6L209.2 522.0L212.3 522.4L215.5 522.8L218.9 523.2L222.4 523.6L226.0 524.0L229.6 524.4L233.3 524.8L237.1 525.2L240.8 525.6L244.5 526.0L248.1 526.4L251.7 526.8L255.2 527.2L258.6 527.6L261.8 528.0L264.9 528.4L267.9 528.8L270.6 529.2L273.1 529.6L275.4 530.0L277.5 530.4L279.3 530.8L280.9 531.2L282.2 531.6L283.2 532.0L283.9 532.4L284.4 532.8L284.5 533.2L284.4 533.6L283.9 534.0L283.2 534.4L282.2 534.8L280.9 535.2L279.4 535.7L277.6 536.1L275.5 536.5L273.2 536.9L270.7 537.3L268.0 537.7L265.1 538.1L262.1 538.5L258.8 538.9L255.5 539.4L252.0 539.8L248.5 540.2L244.9 540.6L241.2 541.0L237.5 541.4L233.8 541.8L230.1 542.2L226.5 542.6L223.0 543.0L219.5 543.5L216.2 543.9L212.9 544.3L209.9 544.7L207.0 545.1L204.3 545.5L201.8 545.9L199.5 546.3L197.4 546.7L195.6 547.1L194.1 547.6L192.8 548.0L191.8 548.4L191.1 548.8L190.6 549.2L190.5 549.6L190.6 550.0L190.7 550.4L191.0 550.8L191.4 551.2L191.9 551.6L192.5 552.0L193.2 552.5L194.0 552.9L194.9 553.3L195.8 553.7L196.9 554.1L198.0 554.5L199.2 554.9L200.5 555.3L201.8 555.7L203.1 556.1L204.5 556.5L206.0 556.9L207.4 557.3L208.9 557.7L210.3 558.2L211.8 558.6L213.2 559.0L214.7 559.4L216.1 559.8L217.4 560.2L218.7 560.6L220.0 561.0L221.2 561.4L222.3 561.8L223.4 562.2L224.3 562.6L225.2 563.0L226.0 563.4L226.7 563.9L227.3 564.3L227.8 564.7L228.2 565.1L228.5 565.5L228.6 565.9L228.7 566.3L228.7 566.7L228.6 567.1L228.5 567.5L228.4 567.9L228.2 568.4L228.0 568.8L227.8 569.2L227.5 569.6L227.2 570.0L226.9 570.4L226.6 570.8L226.3 571.2L225.9 571.6L225.6 572.0L225.3 572.5L224.9 572.9L224.6 573.3L224.3 573.7L224.0 574.1L223.7 574.5L223.4 574.9L223.2 575.3L223.0 575.7L222.8 576.2L222.7 576.6L222.6 577.0L222.5 577.4L222.5 577.8L222.5 578.2L222.6 578.6L222.8 579.0L223.1 579.4L223.3 579.8L223.7 580.2L224.0 580.6L224.3 581.1L224.7 581.5L224.9 581.9L225.2 582.3L225.4 582.7L225.5 583.1L225.5 583.5L225.4 583.9L225.0 584.3L224.5 584.8L223.8 585.2L223.0 585.6L222.0 586.0L221.1 586.5L220.1 586.9L219.3 587.3L218.6 587.7L218.1 588.2L217.7 588.6L217.6 589.0L218.0 589.4L219.2 589.9L221.2 590.3L223.7 590.7L226.6 591.1L229.8 591.5L232.9 592.0L235.8 592.4L238.3 592.8L240.3 593.2L241.5 593.7L241.9 594.1L240.9 594.5L238.1 595.0L233.7 595.4L227.8 595.8L221.0 596.3L213.8 596.7L206.5 597.1L199.7 597.6L193.8 598.0L189.4 598.4L186.6 598.9L185.6 599.3L187.2 599.7L191.8 600.1L199.2 600.6L208.9 601.0L220.1 601.4L232.1 601.8L244.1 602.3L255.4 602.7L265.0 603.1L272.4 603.5L277.0 604.0L278.6 604.4L276.7 604.8L271.0 605.2L262.0 605.6L250.3 606.1L236.6 606.5L222.0 606.9L207.3 607.3L193.6 607.7L181.9 608.1L172.9 608.6L167.2 609.0L165.3 609.4L167.0 609.8L172.1 610.2L180.3 610.6L190.8 611.1L203.1 611.5L216.4 611.9L229.6 612.3L241.9 612.7L252.4 613.1L260.6 613.6L265.7 614.0L267.4 614.4L266.4 614.8L263.5 615.2L258.9 615.6L252.8 616.0L245.6 616.4L237.7 616.8L229.6 617.3L221.7 617.7L214.5 618.1L208.4 618.5L203.8 618.9L200.9 619.3L199.9 619.7L200.5 620.1L202.1 620.6L204.6 621.0L208.0 621.4L211.9 621.9L216.0 622.3L220.2 622.7L224.1 623.2L227.5 623.6L230.0 624.0L231.6 624.5L232.2 624.9L232.0 625.3L231.4 625.7L230.4 626.1L229.2 626.6L227.8 627.0L226.2 627.4L224.6 627.8L223.2 628.2L222.0 628.6L221.0 629.1L220.4 629.5L220.2 629.9L220.3 630.3L220.5 630.7L220.8 631.1L221.2 631.6L221.7 632.0L222.2 632.4L222.8 632.8L223.3 633.2L223.7 633.6L224.0 634.1L224.2 634.5L224.3 634.9L224.3 635.3L224.3 635.7L224.2 636.1L224.1 636.5L224.1 636.9L224.0 637.3L223.9 637.7L223.7 638.2L223.6 638.6L223.6 639.0L223.5 639.4L223.4 639.8L223.3 640.2L223.3 640.6L223.3 641.0L223.3 770.5" fill="none" stroke="#000" stroke-width="2.9" stroke-linejoin="round" stroke-linecap="butt"/>
<path d="M101.9 13.0H344.4V772.6H101.9ZM104.7 16.3V770.0H341.7V16.3Z" fill="#000" fill-rule="evenodd"/>
<rect x="104.2" y="85.5" width="7.8" height="4" fill="#000"/>
<rect x="334.5" y="85.5" width="7.8" height="4" fill="#000"/>
<rect x="104.2" y="159.7" width="7.8" height="4" fill="#000"/>
<rect x="334.5" y="159.7" width="7.8" height="4" fill="#000"/>
<rect x="104.2" y="233.9" width="7.8" height="4" fill="#000"/>
<rect x="334.5" y="233.9" width="7.8" height="4" fill="#000"/>
<rect x="104.2" y="308.1" width="7.8" height="4" fill="#000"/>
<rect x="334.5" y="308.1" width="7.8" height="4" fill="#000"/>
<rect x="104.2" y="382.3" width="7.8" height="4" fill="#000"/>
<rect x="334.5" y="382.3" width="7.8" height="4" fill="#000"/>
<rect x="104.2" y="456.5" width="7.8" height="4" fill="#000"/>
<rect x="334.5" y="456.5" width="7.8" height="4" fill="#000"/>
<rect x="104.2" y="530.7" width="7.8" height="4" fill="#000"/>
<rect x="334.5" y="530.7" width="7.8" height="4" fill="#000"/>
<rect x="104.2" y="604.9" width="7.8" height="4" fill="#000"/>
<rect x="334.5" y="604.9" width="7.8" height="4" fill="#000"/>
<rect x="104.2" y="679.1" width="7.8" height="4" fill="#000"/>
<rect x="334.5" y="679.1" width="7.8" height="4" fill="#000"/>
<rect x="104.2" y="753.3" width="7.8" height="4" fill="#000"/>
<rect x="334.5" y="753.3" width="7.8" height="4" fill="#000"/>
<rect x="221.10000000000002" y="14.2" width="4.6" height="9.5" fill="#000"/>
<rect x="221.10000000000002" y="762.1" width="4.6" height="9.5" fill="#000"/>
<text x="95.1" y="25.0" text-anchor="end" fill="#000" font-size="32" >0</text>
<text x="95.1" y="172.9" text-anchor="end" fill="#000" font-size="32" >200</text>
<text x="95.1" y="320.5" text-anchor="end" fill="#000" font-size="32" >400</text>
<text x="95.1" y="468.1" text-anchor="end" fill="#000" font-size="32" >600</text>
<text x="95.1" y="615.7" text-anchor="end" fill="#000" font-size="32" >800</text>
<text x="95.1" y="763.3" text-anchor="end" fill="#000" font-size="32" >1000</text>
<text x="225.5" y="806.0" text-anchor="middle" fill="#000" font-size="31" id="mt">Model trace</text>
<text transform="translate(25.4,392.5) rotate(-90)" text-anchor="middle" font-size="31" id="tm">Time (ms)</text>
<g id="panel_b">
<rect x="427.2" y="12.9" width="291.00000000000006" height="759.7" fill="#00008a"/>
<svg x="427.2" y="12.9" width="291.00000000000006" height="759.7" viewBox="427.2 12.9 291.00000000000006 759.7" overflow="hidden">
<g filter="url(#jet)"><rect x="407.2" y="-7.1" width="331" height="799.7" fill="#000"/><ellipse cx="648" cy="126.3" rx="165.0" ry="21.0" fill="url(#gg)" opacity="0.09"/>
<ellipse cx="593" cy="126.6" rx="114.0" ry="22.5" fill="url(#gg)" opacity="0.17"/>
<ellipse cx="556" cy="126.39999999999999" rx="66.0" ry="19.5" fill="url(#gg)" opacity="0.26"/>
<ellipse cx="518" cy="126.1" rx="115.5" ry="64.8" fill="url(#gg)" opacity="0.13"/>
<ellipse cx="518" cy="125.8" rx="63.6" ry="21.8" fill="url(#gf)" opacity="0.48"/>
<ellipse cx="476" cy="137" rx="21.0" ry="21.0" fill="url(#gg)" opacity="0.16"/>
<ellipse cx="455" cy="185" rx="66.0" ry="135.0" fill="url(#gg)" opacity="0.13"/>
<ellipse cx="530" cy="172" rx="120.0" ry="30.0" fill="url(#gg)" opacity="0.13"/>
<ellipse cx="492" cy="171.5" rx="48.0" ry="19.5" fill="url(#gg)" opacity="0.42"/>
<ellipse cx="470" cy="213" rx="27.0" ry="15.0" fill="url(#gg)" opacity="0.2"/>
<ellipse cx="441.5" cy="245" rx="16.5" ry="72.0" fill="url(#gg)" opacity="0.18"/>
<ellipse cx="446.5" cy="219" rx="19.5" ry="39.0" fill="url(#gg)" opacity="0.28"/>
<ellipse cx="466.5" cy="159.5" rx="40.9" ry="43.6" fill="url(#gf)" opacity="0.6" transform="rotate(14 466.5 159.5)"/>
<ellipse cx="452" cy="197" rx="22.7" ry="56.4" fill="url(#gf)" opacity="0.6" transform="rotate(6 452 197)"/>
<ellipse cx="462.5" cy="162.5" rx="25.5" ry="40.5" fill="url(#gg)" opacity="0.97" transform="rotate(16 462.5 162.5)"/>
<ellipse cx="451.5" cy="190" rx="18.0" ry="45.0" fill="url(#gg)" opacity="0.92" transform="rotate(8 451.5 190)"/>
<ellipse cx="649" cy="310.8" rx="165.0" ry="21.0" fill="url(#gg)" opacity="0.081"/>
<ellipse cx="594" cy="311.1" rx="114.0" ry="22.5" fill="url(#gg)" opacity="0.15300000000000002"/>
<ellipse cx="557" cy="310.90000000000003" rx="66.0" ry="19.5" fill="url(#gg)" opacity="0.234"/>
<ellipse cx="519" cy="310.6" rx="108.9" ry="70.2" fill="url(#gg)" opacity="0.13"/>
<ellipse cx="519" cy="310.3" rx="60.0" ry="23.6" fill="url(#gf)" opacity="0.48"/>
<ellipse cx="590" cy="346" rx="135.0" ry="27.0" fill="url(#gg)" opacity="0.1"/>
<ellipse cx="548" cy="346" rx="78.0" ry="27.0" fill="url(#gg)" opacity="0.2"/>
<ellipse cx="522" cy="346.5" rx="42.0" ry="27.0" fill="url(#gg)" opacity="0.25"/>
<ellipse cx="495" cy="347" rx="90.0" ry="60.0" fill="url(#gg)" opacity="0.13"/>
<ellipse cx="493" cy="347" rx="45.5" ry="34.5" fill="url(#gf)" opacity="0.52"/>
<ellipse cx="490" cy="346.5" rx="27.0" ry="15.0" fill="url(#gg)" opacity="0.16"/>
<ellipse cx="505" cy="458" rx="96.0" ry="42.0" fill="url(#gg)" opacity="0.16"/>
<ellipse cx="489" cy="458" rx="33.0" ry="45.0" fill="url(#gg)" opacity="0.2"/>
<ellipse cx="467" cy="450" rx="60.0" ry="96.0" fill="url(#gg)" opacity="0.13"/>
<ellipse cx="468" cy="457.5" rx="34.5" ry="50.0" fill="url(#gf)" opacity="0.6"/>
<ellipse cx="466.5" cy="458" rx="19.5" ry="36.0" fill="url(#gg)" opacity="0.95"/>
<ellipse cx="446" cy="497" rx="13.5" ry="30.0" fill="url(#gg)" opacity="0.45"/>
<ellipse cx="490" cy="532" rx="84.0" ry="42.0" fill="url(#gg)" opacity="0.14"/>
<ellipse cx="476" cy="533" rx="30.0" ry="48.0" fill="url(#gg)" opacity="0.2"/>
<ellipse cx="456" cy="535" rx="60.0" ry="102.0" fill="url(#gg)" opacity="0.14"/>
<ellipse cx="442.5" cy="572" rx="15.0" ry="48.0" fill="url(#gg)" opacity="0.2"/>
<ellipse cx="457" cy="532" rx="32.7" ry="54.5" fill="url(#gf)" opacity="0.6" transform="rotate(4 457 532)"/>
<ellipse cx="454.5" cy="532.5" rx="18.0" ry="31.5" fill="url(#gg)" opacity="0.93"/>
<ellipse cx="648" cy="606.8" rx="165.0" ry="21.0" fill="url(#gg)" opacity="0.072"/>
<ellipse cx="593" cy="607.0999999999999" rx="114.0" ry="22.5" fill="url(#gg)" opacity="0.136"/>
<ellipse cx="556" cy="606.9" rx="66.0" ry="19.5" fill="url(#gg)" opacity="0.20800000000000002"/>
<ellipse cx="518" cy="606.5999999999999" rx="102.3" ry="62.1" fill="url(#gg)" opacity="0.13"/>
<ellipse cx="518" cy="606.3" rx="56.4" ry="20.9" fill="url(#gf)" opacity="0.48"/></g>
</svg>
<rect x="428.8" y="14.5" width="287.00000000000006" height="756.3000000000001" fill="none" stroke="#16167c" stroke-width="1.3" opacity="0.7"/>
<rect x="454.9" y="14.9" width="1.6" height="6" fill="#282872" opacity="0.8"/>
<rect x="454.9" y="763.6" width="1.6" height="7" fill="#3a3a80" opacity="0.9"/>
<rect x="483.8" y="14.9" width="1.6" height="6" fill="#282872" opacity="0.8"/>
<rect x="483.8" y="763.6" width="1.6" height="7" fill="#3a3a80" opacity="0.9"/>
<rect x="512.8" y="14.9" width="1.6" height="6" fill="#282872" opacity="0.8"/>
<rect x="512.8" y="763.6" width="1.6" height="7" fill="#3a3a80" opacity="0.9"/>
<rect x="541.7" y="14.9" width="1.6" height="6" fill="#282872" opacity="0.8"/>
<rect x="541.7" y="763.6" width="1.6" height="7" fill="#3a3a80" opacity="0.9"/>
<rect x="570.7" y="14.9" width="1.6" height="6" fill="#282872" opacity="0.8"/>
<rect x="570.7" y="763.6" width="1.6" height="7" fill="#3a3a80" opacity="0.9"/>
<rect x="599.6" y="14.9" width="1.6" height="6" fill="#282872" opacity="0.8"/>
<rect x="599.6" y="763.6" width="1.6" height="7" fill="#3a3a80" opacity="0.9"/>
<rect x="628.6" y="14.9" width="1.6" height="6" fill="#282872" opacity="0.8"/>
<rect x="628.6" y="763.6" width="1.6" height="7" fill="#3a3a80" opacity="0.9"/>
<rect x="657.5" y="14.9" width="1.6" height="6" fill="#282872" opacity="0.8"/>
<rect x="657.5" y="763.6" width="1.6" height="7" fill="#3a3a80" opacity="0.9"/>
<rect x="686.5" y="14.9" width="1.6" height="6" fill="#282872" opacity="0.8"/>
<rect x="686.5" y="763.6" width="1.6" height="7" fill="#3a3a80" opacity="0.9"/>
<rect x="429.7" y="86.6" width="6" height="1.8" fill="#282872" opacity="0.9"/>
<rect x="709.7" y="86.6" width="6" height="1.8" fill="#282872" opacity="0.9"/>
<rect x="429.7" y="235.0" width="6" height="1.8" fill="#282872" opacity="0.9"/>
<rect x="709.7" y="235.0" width="6" height="1.8" fill="#282872" opacity="0.9"/>
<rect x="429.7" y="383.4" width="6" height="1.8" fill="#282872" opacity="0.9"/>
<rect x="709.7" y="383.4" width="6" height="1.8" fill="#282872" opacity="0.9"/>
<rect x="429.7" y="531.8" width="6" height="1.8" fill="#282872" opacity="0.9"/>
<rect x="709.7" y="531.8" width="6" height="1.8" fill="#282872" opacity="0.9"/>
<rect x="429.7" y="680.2" width="6" height="1.8" fill="#282872" opacity="0.9"/>
<rect x="709.7" y="680.2" width="6" height="1.8" fill="#282872" opacity="0.9"/>
<rect x="429.7" y="754.4" width="6" height="1.8" fill="#282872" opacity="0.9"/>
<rect x="709.7" y="754.4" width="6" height="1.8" fill="#282872" opacity="0.9"/>
<line x1="715.8" y1="161.0" x2="429.6" y2="161.0" stroke="#d4d4ea" stroke-width="2.3" stroke-dasharray="6.6 3.45"/>
<line x1="715.8" y1="310.4" x2="429.6" y2="310.4" stroke="#d4d4ea" stroke-width="2.3" stroke-dasharray="6.6 3.45"/>
<line x1="715.8" y1="459.1" x2="429.6" y2="459.1" stroke="#d4d4ea" stroke-width="2.3" stroke-dasharray="6.6 3.45"/>
<line x1="715.8" y1="605.4" x2="429.6" y2="605.4" stroke="#d4d4ea" stroke-width="2.3" stroke-dasharray="6.6 3.45"/>
<text x="436.1" y="51.2" text-anchor="start" fill="#fff" font-size="38.5" id="lab_b" letter-spacing="0.8">(b)</text>
<text x="429.2" y="805.8" text-anchor="middle" fill="#000" font-size="31" >0</text>
<text x="485.6" y="805.8" text-anchor="middle" fill="#000" font-size="31" >40</text>
<text x="542.2" y="805.8" text-anchor="middle" fill="#000" font-size="31" >80</text>
<text x="598.8" y="805.8" text-anchor="middle" fill="#000" font-size="31" >120</text>
<text x="655.2" y="805.8" text-anchor="middle" fill="#000" font-size="31" >160</text>
<text x="712.0" y="805.8" text-anchor="middle" fill="#000" font-size="31" >200</text>
<text x="575.1" y="841.0" text-anchor="middle" fill="#000" font-size="31" id="fq_b" textLength="213" lengthAdjust="spacingAndGlyphs">Frequency (Hz)</text>
<text x="421.6" y="25.0" text-anchor="end" fill="#000" font-size="32" >0</text>
<text x="421.6" y="172.9" text-anchor="end" fill="#000" font-size="32" >200</text>
<text x="421.6" y="320.5" text-anchor="end" fill="#000" font-size="32" >400</text>
<text x="421.6" y="468.1" text-anchor="end" fill="#000" font-size="32" >600</text>
<text x="421.6" y="615.7" text-anchor="end" fill="#000" font-size="32" >800</text>
<text x="421.6" y="763.3" text-anchor="end" fill="#000" font-size="32" >1000</text>
</g>
<g id="panel_c">
<rect x="804.0" y="12.9" width="290.5999999999999" height="759.7" fill="#00008a"/>
<svg x="804.0" y="12.9" width="290.5999999999999" height="759.7" viewBox="804.0 12.9 290.5999999999999 759.7" overflow="hidden">
<g filter="url(#jet)"><rect x="784.0" y="-7.1" width="330.6" height="799.7" fill="#000"/><ellipse cx="835" cy="190" rx="48.0" ry="210.0" fill="url(#gg)" opacity="0.08"/>
<ellipse cx="822" cy="140" rx="30.0" ry="180.0" fill="url(#gg)" opacity="0.05"/>
<ellipse cx="845" cy="130" rx="24.0" ry="105.0" fill="url(#gg)" opacity="0.07"/>
<ellipse cx="909" cy="124" rx="33.0" ry="33.0" fill="url(#gg)" opacity="0.13"/>
<ellipse cx="890" cy="118" rx="54.0" ry="27.0" fill="url(#gg)" opacity="0.06"/>
<path d="M852 136 C 865 128, 885 128, 897 138 C 890 146, 872 152, 856 158" fill="none" stroke="#fff" stroke-width="1.6" stroke-opacity="0.1" stroke-linecap="round" stroke-linejoin="round" filter="url(#bl1)"/>
<ellipse cx="844.5" cy="146" rx="18.0" ry="60.0" fill="url(#gg)" opacity="0.12" transform="rotate(12 844.5 146)"/>
<path d="M840 160 C 836 180, 832.5 200, 831.5 220 C 831 230, 831 238, 831.5 246" fill="none" stroke="#fff" stroke-width="7" stroke-opacity="0.13" stroke-linecap="round" stroke-linejoin="round" filter="url(#bl3)"/>
<path d="M853 160 C 856 172, 859 184, 858.5 196 C 858 204, 855.5 209, 853 215" fill="none" stroke="#fff" stroke-width="4" stroke-opacity="0.1" stroke-linecap="round" stroke-linejoin="round" filter="url(#bl2)"/>
<path d="M847 140 C 844 160, 838 180, 835 205" fill="none" stroke="#fff" stroke-width="4" stroke-opacity="0.06" stroke-linecap="round" stroke-linejoin="round" filter="url(#bl2)"/>
<path d="M852.5 135 C 851 140, 851 148, 851.8 154" fill="none" stroke="#fff" stroke-width="1.3" stroke-opacity="0.32" stroke-linecap="round" stroke-linejoin="round"/>
<path d="M851.6 142 L 851.3 149" fill="none" stroke="#fff" stroke-width="1.0" stroke-opacity="0.3" stroke-linecap="round" stroke-linejoin="round"/>
<path d="M836.8 180 C 835 190, 834 202, 834.3 218" fill="none" stroke="#fff" stroke-width="1.4" stroke-opacity="0.3" stroke-linecap="round" stroke-linejoin="round"/>
<path d="M834.6 202 L 834.4 212" fill="none" stroke="#fff" stroke-width="1.1" stroke-opacity="0.3" stroke-linecap="round" stroke-linejoin="round"/>
<path d="M852.5 158 C 855 170, 858.5 183, 858 195 C 857.5 203, 855 208, 853 213" fill="none" stroke="#fff" stroke-width="1.3" stroke-opacity="0.2" stroke-linecap="round" stroke-linejoin="round"/>
<path d="M853 213 C 851 220, 848 228, 846 235" fill="none" stroke="#fff" stroke-width="2" stroke-opacity="0.1" stroke-linecap="round" stroke-linejoin="round" filter="url(#bl1)"/>
<ellipse cx="908" cy="300.5" rx="39.0" ry="36.0" fill="url(#gg)" opacity="0.12"/>
<ellipse cx="879" cy="356" rx="21.0" ry="36.0" fill="url(#gg)" opacity="0.2"/>
<ellipse cx="876" cy="350" rx="42.0" ry="84.0" fill="url(#gg)" opacity="0.07"/>
<path d="M864.5 306 C 863 312, 863.5 320, 866 327" fill="none" stroke="#fff" stroke-width="1.5" stroke-opacity="0.13" stroke-linecap="round" stroke-linejoin="round" filter="url(#bl1)"/>
<path d="M898.5 312 C 900 318, 896 324, 890 330 C 886 334, 883 338, 882 343" fill="none" stroke="#fff" stroke-width="1.5" stroke-opacity="0.42" stroke-linecap="round" stroke-linejoin="round"/>
<path d="M886 334 C 884 337, 882.5 340, 882 343" fill="none" stroke="#fff" stroke-width="1.2" stroke-opacity="0.35" stroke-linecap="round" stroke-linejoin="round"/>
<ellipse cx="882" cy="343" rx="3.9" ry="4.5" fill="url(#gg)" opacity="0.5"/>
<path d="M898 313 C 905 316, 915 322, 935 330" fill="none" stroke="#fff" stroke-width="1.5" stroke-opacity="0.06" stroke-linecap="round" stroke-linejoin="round" filter="url(#bl1)"/>
<ellipse cx="838" cy="470" rx="54.0" ry="210.0" fill="url(#gg)" opacity="0.07"/>
<ellipse cx="848" cy="445" rx="19.5" ry="84.0" fill="url(#gg)" opacity="0.17"/>
<ellipse cx="849" cy="462" rx="9.6" ry="60.0" fill="url(#gg)" opacity="0.14"/>
<ellipse cx="849.3" cy="466" rx="4.8" ry="36.0" fill="url(#gg)" opacity="0.2"/>
<ellipse cx="836" cy="455" rx="7.5" ry="54.0" fill="url(#gg)" opacity="0.1"/>
<ellipse cx="838" cy="548" rx="21.0" ry="60.0" fill="url(#gg)" opacity="0.06"/>
<path d="M835.5 470 C 832 490, 831.5 510, 833 528 C 834 540, 835.5 552, 836.5 566" fill="none" stroke="#fff" stroke-width="5" stroke-opacity="0.13" stroke-linecap="round" stroke-linejoin="round" filter="url(#bl2)"/>
<path d="M849.3 480 C 849 500, 844 515, 843 530 C 842.3 540, 841.5 552, 841 562" fill="none" stroke="#fff" stroke-width="5" stroke-opacity="0.13" stroke-linecap="round" stroke-linejoin="round" filter="url(#bl2)"/>
<path d="M849 472 C 849.5 480, 850 488, 849.2 495 C 847.5 508, 844 516, 843 526 C 842.6 532, 842.3 536, 842 541" fill="none" stroke="#fff" stroke-width="1.2" stroke-opacity="0.33" stroke-linecap="round" stroke-linejoin="round"/>
<path d="M849.5 485 L 849.4 494" fill="none" stroke="#fff" stroke-width="1.2" stroke-opacity="0.75" stroke-linecap="round" stroke-linejoin="round"/>
<path d="M845.5 512 C 844.2 518, 843.4 523, 843 528" fill="none" stroke="#fff" stroke-width="1.3" stroke-opacity="0.3" stroke-linecap="round" stroke-linejoin="round"/>
<path d="M835.5 472 C 833.5 480, 832 490, 831.8 500 C 831.8 510, 832.3 516, 833 524" fill="none" stroke="#fff" stroke-width="1.2" stroke-opacity="0.33" stroke-linecap="round" stroke-linejoin="round"/>
<path d="M832.3 488 C 831.8 496, 831.8 504, 832 512" fill="none" stroke="#fff" stroke-width="1.2" stroke-opacity="0.3" stroke-linecap="round" stroke-linejoin="round"/>
<path d="M833 524 C 834 534, 835 544, 836 554" fill="none" stroke="#fff" stroke-width="2" stroke-opacity="0.12" stroke-linecap="round" stroke-linejoin="round" filter="url(#bl1)"/>
<ellipse cx="906" cy="606" rx="31.5" ry="31.5" fill="url(#gg)" opacity="0.14"/>
<ellipse cx="822" cy="600" rx="24.0" ry="90.0" fill="url(#gg)" opacity="0.05"/></g>
</svg>
<rect x="805.6" y="14.5" width="286.5999999999999" height="756.3000000000001" fill="none" stroke="#16167c" stroke-width="1.3" opacity="0.7"/>
<rect x="817.2" y="14.9" width="1.6" height="6" fill="#282872" opacity="0.8"/>
<rect x="817.2" y="763.6" width="1.6" height="7" fill="#3a3a80" opacity="0.9"/>
<rect x="831.7" y="14.9" width="1.6" height="6" fill="#282872" opacity="0.8"/>
<rect x="831.7" y="763.6" width="1.6" height="7" fill="#3a3a80" opacity="0.9"/>
<rect x="846.1" y="14.9" width="1.6" height="6" fill="#282872" opacity="0.8"/>
<rect x="846.1" y="763.6" width="1.6" height="7" fill="#3a3a80" opacity="0.9"/>
<rect x="860.6" y="14.9" width="1.6" height="6" fill="#282872" opacity="0.8"/>
<rect x="860.6" y="763.6" width="1.6" height="7" fill="#3a3a80" opacity="0.9"/>
<rect x="875.1" y="14.9" width="1.6" height="6" fill="#282872" opacity="0.8"/>
<rect x="875.1" y="763.6" width="1.6" height="7" fill="#3a3a80" opacity="0.9"/>
<rect x="889.6" y="14.9" width="1.6" height="6" fill="#282872" opacity="0.8"/>
<rect x="889.6" y="763.6" width="1.6" height="7" fill="#3a3a80" opacity="0.9"/>
<rect x="904.0" y="14.9" width="1.6" height="6" fill="#282872" opacity="0.8"/>
<rect x="904.0" y="763.6" width="1.6" height="7" fill="#3a3a80" opacity="0.9"/>
<rect x="918.5" y="14.9" width="1.6" height="6" fill="#282872" opacity="0.8"/>
<rect x="918.5" y="763.6" width="1.6" height="7" fill="#3a3a80" opacity="0.9"/>
<rect x="933.0" y="14.9" width="1.6" height="6" fill="#282872" opacity="0.8"/>
<rect x="933.0" y="763.6" width="1.6" height="7" fill="#3a3a80" opacity="0.9"/>
<rect x="947.5" y="14.9" width="1.6" height="6" fill="#282872" opacity="0.8"/>
<rect x="947.5" y="763.6" width="1.6" height="7" fill="#3a3a80" opacity="0.9"/>
<rect x="962.0" y="14.9" width="1.6" height="6" fill="#282872" opacity="0.8"/>
<rect x="962.0" y="763.6" width="1.6" height="7" fill="#3a3a80" opacity="0.9"/>
<rect x="976.4" y="14.9" width="1.6" height="6" fill="#282872" opacity="0.8"/>
<rect x="976.4" y="763.6" width="1.6" height="7" fill="#3a3a80" opacity="0.9"/>
<rect x="990.9" y="14.9" width="1.6" height="6" fill="#282872" opacity="0.8"/>
<rect x="990.9" y="763.6" width="1.6" height="7" fill="#3a3a80" opacity="0.9"/>
<rect x="1005.4" y="14.9" width="1.6" height="6" fill="#282872" opacity="0.8"/>
<rect x="1005.4" y="763.6" width="1.6" height="7" fill="#3a3a80" opacity="0.9"/>
<rect x="1019.9" y="14.9" width="1.6" height="6" fill="#282872" opacity="0.8"/>
<rect x="1019.9" y="763.6" width="1.6" height="7" fill="#3a3a80" opacity="0.9"/>
<rect x="1034.3" y="14.9" width="1.6" height="6" fill="#282872" opacity="0.8"/>
<rect x="1034.3" y="763.6" width="1.6" height="7" fill="#3a3a80" opacity="0.9"/>
<rect x="1048.8" y="14.9" width="1.6" height="6" fill="#282872" opacity="0.8"/>
<rect x="1048.8" y="763.6" width="1.6" height="7" fill="#3a3a80" opacity="0.9"/>
<rect x="1063.3" y="14.9" width="1.6" height="6" fill="#282872" opacity="0.8"/>
<rect x="1063.3" y="763.6" width="1.6" height="7" fill="#3a3a80" opacity="0.9"/>
<rect x="1077.8" y="14.9" width="1.6" height="6" fill="#282872" opacity="0.8"/>
<rect x="1077.8" y="763.6" width="1.6" height="7" fill="#3a3a80" opacity="0.9"/>
<rect x="806.5" y="86.6" width="6" height="1.8" fill="#282872" opacity="0.9"/>
<rect x="1086.1" y="86.6" width="6" height="1.8" fill="#282872" opacity="0.9"/>
<rect x="806.5" y="235.0" width="6" height="1.8" fill="#282872" opacity="0.9"/>
<rect x="1086.1" y="235.0" width="6" height="1.8" fill="#282872" opacity="0.9"/>
<rect x="806.5" y="383.4" width="6" height="1.8" fill="#282872" opacity="0.9"/>
<rect x="1086.1" y="383.4" width="6" height="1.8" fill="#282872" opacity="0.9"/>
<rect x="806.5" y="531.8" width="6" height="1.8" fill="#282872" opacity="0.9"/>
<rect x="1086.1" y="531.8" width="6" height="1.8" fill="#282872" opacity="0.9"/>
<rect x="806.5" y="680.2" width="6" height="1.8" fill="#282872" opacity="0.9"/>
<rect x="1086.1" y="680.2" width="6" height="1.8" fill="#282872" opacity="0.9"/>
<rect x="806.5" y="754.4" width="6" height="1.8" fill="#282872" opacity="0.9"/>
<rect x="1086.1" y="754.4" width="6" height="1.8" fill="#282872" opacity="0.9"/>
<line x1="1092.2" y1="161.0" x2="806.4" y2="161.0" stroke="#d4d4ea" stroke-width="2.3" stroke-dasharray="6.6 3.45"/>
<line x1="1092.2" y1="310.4" x2="806.4" y2="310.4" stroke="#d4d4ea" stroke-width="2.3" stroke-dasharray="6.6 3.45"/>
<line x1="1092.2" y1="459.1" x2="806.4" y2="459.1" stroke="#d4d4ea" stroke-width="2.3" stroke-dasharray="6.6 3.45"/>
<line x1="1092.2" y1="605.4" x2="806.4" y2="605.4" stroke="#d4d4ea" stroke-width="2.3" stroke-dasharray="6.6 3.45"/>
<text x="818.9" y="51.2" text-anchor="start" fill="#fff" font-size="38.5" id="lab_c" letter-spacing="0.8">(c)</text>
<text x="806.0" y="805.8" text-anchor="middle" fill="#000" font-size="31" >0</text>
<text x="862.4" y="805.8" text-anchor="middle" fill="#000" font-size="31" >40</text>
<text x="919.0" y="805.8" text-anchor="middle" fill="#000" font-size="31" >80</text>
<text x="975.6" y="805.8" text-anchor="middle" fill="#000" font-size="31" >120</text>
<text x="1032.0" y="805.8" text-anchor="middle" fill="#000" font-size="31" >160</text>
<text x="1088.8" y="805.8" text-anchor="middle" fill="#000" font-size="31" >200</text>
<text x="958.3" y="841.0" text-anchor="middle" fill="#000" font-size="31" id="fq_c" textLength="213" lengthAdjust="spacingAndGlyphs">Frequency (Hz)</text>
<text x="796.4" y="25.0" text-anchor="end" fill="#000" font-size="32" >0</text>
<text x="796.4" y="172.9" text-anchor="end" fill="#000" font-size="32" >200</text>
<text x="796.4" y="320.5" text-anchor="end" fill="#000" font-size="32" >400</text>
<text x="796.4" y="468.1" text-anchor="end" fill="#000" font-size="32" >600</text>
<text x="796.4" y="615.7" text-anchor="end" fill="#000" font-size="32" >800</text>
<text x="796.4" y="763.3" text-anchor="end" fill="#000" font-size="32" >1000</text>
</g>
<g id="panel_d">
<rect x="1176.8" y="12.9" width="290.79999999999995" height="759.7" fill="#00008a"/>
<svg x="1176.8" y="12.9" width="290.79999999999995" height="759.7" viewBox="1176.8 12.9 290.79999999999995 759.7" overflow="hidden">
<g filter="url(#jet)"><rect x="1156.8" y="-7.1" width="330.8" height="799.7" fill="#000"/><path d="M1264 112 C 1275 113, 1284 116, 1288.5 120.5" fill="none" stroke="#fff" stroke-width="2.0" stroke-opacity="0.2" stroke-linecap="round" stroke-linejoin="round" filter="url(#bl1)"/>
<path d="M1288.5 120.5 C 1275 127, 1255 134, 1240 140 C 1232 143, 1225 146, 1220 149.5" fill="none" stroke="#fff" stroke-width="2.8" stroke-opacity="0.2" stroke-linecap="round" stroke-linejoin="round" filter="url(#bl1)"/>
<ellipse cx="1270" cy="126" rx="36.0" ry="12.0" fill="url(#gg)" opacity="0.08" transform="rotate(-18 1270 126)"/>
<ellipse cx="1288" cy="120.5" rx="4.5" ry="3.0" fill="url(#gg)" opacity="0.5"/>
<path d="M1236 142 C 1230 145, 1224 147, 1219.6 150" fill="none" stroke="#fff" stroke-width="1.4" stroke-opacity="0.3" stroke-linecap="round" stroke-linejoin="round"/>
<path d="M1219.6 150 C 1219.3 155, 1219.6 160, 1219.2 165 C 1218.5 172, 1214 177, 1207 181 C 1201 184.5, 1194 187, 1189 190" fill="none" stroke="#fff" stroke-width="2.4" stroke-opacity="0.25" stroke-linecap="round" stroke-linejoin="round" filter="url(#bl1)"/>
<path d="M1219.6 150 C 1219.3 155, 1219.6 160, 1219.2 165 C 1218.5 172, 1214 177, 1207 181" fill="none" stroke="#fff" stroke-width="2.7" stroke-opacity="0.6" stroke-linecap="round" stroke-linejoin="round"/>
<path d="M1219.4 151 L 1219.5 158" fill="none" stroke="#fff" stroke-width="1.2" stroke-opacity="0.6" stroke-linecap="round" stroke-linejoin="round"/>
<path d="M1207 181 C 1201 184.5, 1194 187, 1189 190" fill="none" stroke="#fff" stroke-width="1.4" stroke-opacity="0.4" stroke-linecap="round" stroke-linejoin="round"/>
<path d="M1189 190 C 1194 192.5, 1198 195, 1201 199" fill="none" stroke="#fff" stroke-width="1.5" stroke-opacity="0.4" stroke-linecap="round" stroke-linejoin="round"/>
<path d="M1200 198 C 1205 205, 1207.5 214, 1207.3 224 C 1207 232, 1206.5 237, 1206 242" fill="none" stroke="#fff" stroke-width="3.4" stroke-opacity="0.22" stroke-linecap="round" stroke-linejoin="round" filter="url(#bl1)"/>
<path d="M1199 197 C 1203 201, 1206 207, 1207 215" fill="none" stroke="#fff" stroke-width="3.5" stroke-opacity="0.22" stroke-linecap="round" stroke-linejoin="round" filter="url(#bl1)"/>
<ellipse cx="1280" cy="304" rx="13.5" ry="27.0" fill="url(#gg)" opacity="0.09"/>
<ellipse cx="1284" cy="319.5" rx="3.0" ry="3.0" fill="url(#gg)" opacity="0.35"/>
<path d="M1284 320 C 1272 324, 1258 329, 1248 335" fill="none" stroke="#fff" stroke-width="1.2" stroke-opacity="0.06" stroke-linecap="round" stroke-linejoin="round"/>
<ellipse cx="1247.8" cy="335.5" rx="3.0" ry="3.0" fill="url(#gg)" opacity="0.4"/>
<ellipse cx="1249" cy="353" rx="9.0" ry="39.0" fill="url(#gg)" opacity="0.17"/>
<ellipse cx="1220" cy="452" rx="4.2" ry="51.0" fill="url(#gg)" opacity="0.42"/>
<ellipse cx="1220" cy="455" rx="7.2" ry="72.0" fill="url(#gg)" opacity="0.2"/>
<path d="M1220 408 L 1220 487" fill="none" stroke="#fff" stroke-width="1.4" stroke-opacity="0.15" stroke-linecap="round" stroke-linejoin="round"/>
<path d="M1221 486 C 1223 490, 1225 492, 1227 494" fill="none" stroke="#fff" stroke-width="1.6" stroke-opacity="0.1" stroke-linecap="round" stroke-linejoin="round" filter="url(#bl1)"/>
<path d="M1221 508 C 1214 511, 1208 514, 1206.5 520" fill="none" stroke="#fff" stroke-width="1.8" stroke-opacity="0.12" stroke-linecap="round" stroke-linejoin="round" filter="url(#bl1)"/>
<ellipse cx="1206.2" cy="537" rx="5.4" ry="39.0" fill="url(#gg)" opacity="0.4"/>
<ellipse cx="1206" cy="540" rx="9.0" ry="57.0" fill="url(#gg)" opacity="0.16"/>
<ellipse cx="1280.5" cy="605" rx="13.5" ry="28.5" fill="url(#gg)" opacity="0.15"/></g>
</svg>
<rect x="1178.3999999999999" y="14.5" width="286.79999999999995" height="756.3000000000001" fill="none" stroke="#16167c" stroke-width="1.3" opacity="0.7"/>
<rect x="1204.5" y="14.9" width="1.6" height="6" fill="#282872" opacity="0.8"/>
<rect x="1204.5" y="763.6" width="1.6" height="7" fill="#3a3a80" opacity="0.9"/>
<rect x="1233.4" y="14.9" width="1.6" height="6" fill="#282872" opacity="0.8"/>
<rect x="1233.4" y="763.6" width="1.6" height="7" fill="#3a3a80" opacity="0.9"/>
<rect x="1262.4" y="14.9" width="1.6" height="6" fill="#282872" opacity="0.8"/>
<rect x="1262.4" y="763.6" width="1.6" height="7" fill="#3a3a80" opacity="0.9"/>
<rect x="1291.3" y="14.9" width="1.6" height="6" fill="#282872" opacity="0.8"/>
<rect x="1291.3" y="763.6" width="1.6" height="7" fill="#3a3a80" opacity="0.9"/>
<rect x="1320.3" y="14.9" width="1.6" height="6" fill="#282872" opacity="0.8"/>
<rect x="1320.3" y="763.6" width="1.6" height="7" fill="#3a3a80" opacity="0.9"/>
<rect x="1349.2" y="14.9" width="1.6" height="6" fill="#282872" opacity="0.8"/>
<rect x="1349.2" y="763.6" width="1.6" height="7" fill="#3a3a80" opacity="0.9"/>
<rect x="1378.2" y="14.9" width="1.6" height="6" fill="#282872" opacity="0.8"/>
<rect x="1378.2" y="763.6" width="1.6" height="7" fill="#3a3a80" opacity="0.9"/>
<rect x="1407.1" y="14.9" width="1.6" height="6" fill="#282872" opacity="0.8"/>
<rect x="1407.1" y="763.6" width="1.6" height="7" fill="#3a3a80" opacity="0.9"/>
<rect x="1436.1" y="14.9" width="1.6" height="6" fill="#282872" opacity="0.8"/>
<rect x="1436.1" y="763.6" width="1.6" height="7" fill="#3a3a80" opacity="0.9"/>
<rect x="1179.3" y="86.6" width="6" height="1.8" fill="#282872" opacity="0.9"/>
<rect x="1459.1" y="86.6" width="6" height="1.8" fill="#282872" opacity="0.9"/>
<rect x="1179.3" y="235.0" width="6" height="1.8" fill="#282872" opacity="0.9"/>
<rect x="1459.1" y="235.0" width="6" height="1.8" fill="#282872" opacity="0.9"/>
<rect x="1179.3" y="383.4" width="6" height="1.8" fill="#282872" opacity="0.9"/>
<rect x="1459.1" y="383.4" width="6" height="1.8" fill="#282872" opacity="0.9"/>
<rect x="1179.3" y="531.8" width="6" height="1.8" fill="#282872" opacity="0.9"/>
<rect x="1459.1" y="531.8" width="6" height="1.8" fill="#282872" opacity="0.9"/>
<rect x="1179.3" y="680.2" width="6" height="1.8" fill="#282872" opacity="0.9"/>
<rect x="1459.1" y="680.2" width="6" height="1.8" fill="#282872" opacity="0.9"/>
<rect x="1179.3" y="754.4" width="6" height="1.8" fill="#282872" opacity="0.9"/>
<rect x="1459.1" y="754.4" width="6" height="1.8" fill="#282872" opacity="0.9"/>
<line x1="1465.2" y1="161.0" x2="1179.2" y2="161.0" stroke="#d4d4ea" stroke-width="2.3" stroke-dasharray="6.6 3.45"/>
<line x1="1465.2" y1="310.4" x2="1179.2" y2="310.4" stroke="#d4d4ea" stroke-width="2.3" stroke-dasharray="6.6 3.45"/>
<line x1="1465.2" y1="459.1" x2="1179.2" y2="459.1" stroke="#d4d4ea" stroke-width="2.3" stroke-dasharray="6.6 3.45"/>
<line x1="1465.2" y1="605.4" x2="1179.2" y2="605.4" stroke="#d4d4ea" stroke-width="2.3" stroke-dasharray="6.6 3.45"/>
<text x="1189.8" y="51.2" text-anchor="start" fill="#fff" font-size="38.5" id="lab_d" letter-spacing="0.8">(d)</text>
<text x="1178.8" y="805.8" text-anchor="middle" fill="#000" font-size="31" >0</text>
<text x="1235.2" y="805.8" text-anchor="middle" fill="#000" font-size="31" >40</text>
<text x="1291.8" y="805.8" text-anchor="middle" fill="#000" font-size="31" >80</text>
<text x="1348.4" y="805.8" text-anchor="middle" fill="#000" font-size="31" >120</text>
<text x="1404.8" y="805.8" text-anchor="middle" fill="#000" font-size="31" >160</text>
<text x="1461.6" y="805.8" text-anchor="middle" fill="#000" font-size="31" >200</text>
<text x="1331.1" y="841.0" text-anchor="middle" fill="#000" font-size="31" id="fq_d" textLength="213" lengthAdjust="spacingAndGlyphs">Frequency (Hz)</text>
<text x="1171.1" y="25.0" text-anchor="end" fill="#000" font-size="32" >0</text>
<text x="1171.1" y="172.9" text-anchor="end" fill="#000" font-size="32" >200</text>
<text x="1171.1" y="320.5" text-anchor="end" fill="#000" font-size="32" >400</text>
<text x="1171.1" y="468.1" text-anchor="end" fill="#000" font-size="32" >600</text>
<text x="1171.1" y="615.7" text-anchor="end" fill="#000" font-size="32" >800</text>
<text x="1171.1" y="763.3" text-anchor="end" fill="#000" font-size="32" >1000</text>
</g>
<text x="112.2" y="51.4" text-anchor="start" fill="#000" font-size="38.5" id="lab_a" letter-spacing="0.8">(a)</text>
</svg>
</body></html>
